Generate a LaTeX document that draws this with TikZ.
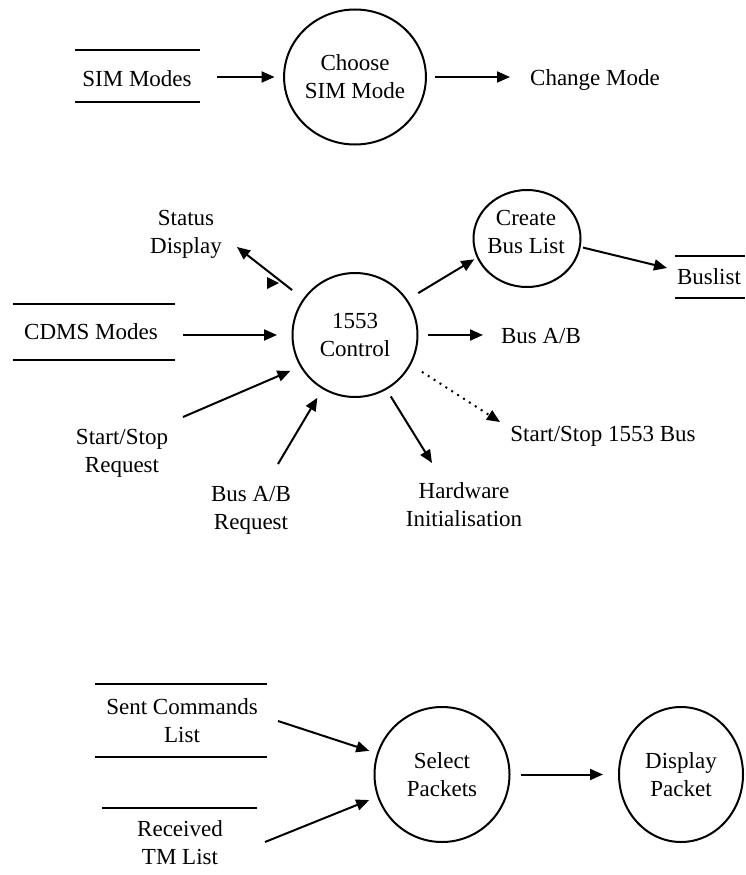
\documentclass[tikz,border=0pt]{standalone}
\usepackage{fontspec}
\setmainfont{Liberation Serif}
\usetikzlibrary{arrows.meta,shapes.geometric}
\begin{document}
\begin{tikzpicture}[x=1pt,y=-1pt,
  every node/.style={font=\fontsize{23}{28}\selectfont, inner sep=0pt},
  proc/.style={draw, ellipse, line width=2pt, align=center},
  lbl/.style={align=center},
  flow/.style={line width=2pt, -{Triangle[length=13pt,width=11pt]}},
  storeline/.style={line width=2.2pt},
  dots/.style={dash pattern=on 2pt off 5pt}]
\useasboundingbox (0,0) rectangle (745,875);

% processes
\node[proc, minimum width=137pt, minimum height=135pt] (choose) at (355,77) {Choose\\SIM Mode};
\node[proc, minimum width=125pt, minimum height=124pt] (ctl) at (355,335) {1553\\Control};
\node[draw, ellipse, line width=2pt, minimum width=107pt, minimum height=97pt] (bus) at (527,238.5) {};
\node[lbl] (bustext) at (526,232) {Create\\Bus List};
\node[proc, minimum width=135pt, minimum height=135pt] (sel) at (442,774.5) {Select\\Packets};
\node[proc, minimum width=124pt, minimum height=135pt] (disp) at (681,774.5) {Display\\Packet};

% data stores and external labels
\node[anchor=base] (simmodes) at (137,86) {SIM Modes};
\node[anchor=base] (change) at (595,85) {Change Mode};
\node[lbl] (status) at (186,234) {Status\\Display};
\node[anchor=base] (cdms) at (91,339) {CDMS Modes};
\node[lbl] (ssreq) at (122,453) {Start/Stop\\Request};
\node[lbl] (abreq) at (251,510) {Bus A/B\\Request};
\node[anchor=base] (busab) at (541,343) {Bus A/B};
\node[anchor=base] (ssbus) at (603,441) {Start/Stop 1553 Bus};
\node[lbl] (hw) at (464,505) {Hardware\\Initialisation};
\node[anchor=base] (buslist) at (709,284) {Buslist};
\node[lbl] (sent) at (182,721) {Sent Commands\\List};
\node[lbl] (recv) at (180,843) {Received\\TM List};

% store bars
\draw[storeline] (75,50) -- (200,50) (75,102) -- (200,102);
\draw[storeline] (13,304) -- (175,304) (13,360) -- (175,360);
\draw[storeline] (675,256) -- (745,256) (675,298) -- (745,298);
\draw[storeline] (95,684) -- (267,684) (95,757) -- (267,757);
\draw[storeline] (102,808) -- (257,808);

% free ends of the flows
\coordinate (simout) at (217,77);
\coordinate (chgin) at (510,77);
\coordinate (stin) at (237,247);
\coordinate (cdmsout) at (183,335);
\coordinate (ssout) at (183,417);
\coordinate (about) at (278,464);
\coordinate (hwin) at (432,463);
\coordinate (ssbin) at (500,422);
\coordinate (busabin) at (483,335);
\coordinate (blin) at (667,268);
\coordinate (sentout) at (278,721);
\coordinate (recvout) at (265,842);

% flows
\draw[flow, shorten >=8.5pt] (simout) -- (choose.180);
\draw[flow, shorten <=8.5pt] (choose.0) -- (chgin);
\draw[flow, shorten <=14pt] (ctl.145) -- (stin);
\fill (267,277) -- (279,283) -- (267,289) -- cycle;
\draw[flow, shorten >=14.5pt] (cdmsout) -- (ctl.180);
\draw[flow, shorten >=10.6pt] (ssout) -- (ctl.210);
\draw[flow, shorten >=10pt] (about) -- (ctl.239);
\draw[flow, shorten <=8pt] (ctl.300) -- (hwin);
\draw[flow, dots, shorten <=13pt] (ctl.332) -- (ssbin);
\draw[flow, shorten <=9.5pt] (ctl.0) -- (busabin);
\draw[flow, shorten <=12.5pt, shorten >=3pt] (ctl.34) -- (bus.201);
\draw[flow, shorten <=2.4pt] (bus.351) -- (blin);
\draw[flow, shorten >=8pt] (sentout) -- (sel.162);
\draw[flow, shorten >=8.7pt] (recvout) -- (sel.199);
\draw[flow, shorten <=10.5pt, shorten >=15pt] (sel.0) -- (disp.180);
\end{tikzpicture}
\end{document}
